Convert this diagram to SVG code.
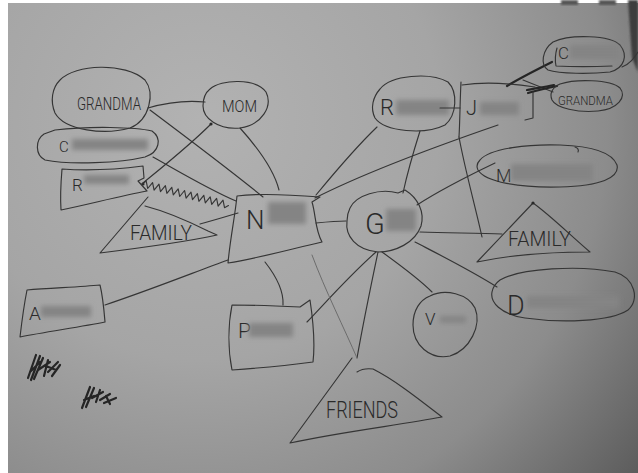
<svg xmlns="http://www.w3.org/2000/svg" width="638" height="473" viewBox="0 0 638 473">
  <defs>
    <radialGradient id="paper" gradientUnits="userSpaceOnUse" cx="200" cy="120" r="600">
      <stop offset="0" stop-color="#b2b2b2"/>
      <stop offset="0.4" stop-color="#a5a5a5"/>
      <stop offset="0.68" stop-color="#8c8c8c"/>
      <stop offset="0.95" stop-color="#5a5a5a"/>
    </radialGradient>
    <filter id="smudge" x="-20%" y="-60%" width="140%" height="220%">
      <feGaussianBlur stdDeviation="2.6"/>
    </filter>
    <filter id="soft" x="-20%" y="-20%" width="140%" height="140%">
      <feGaussianBlur stdDeviation="1.2"/>
    </filter>
  </defs>
  <style>
    .ink { fill: none; stroke: #353535; stroke-width: 1.15; stroke-linecap: round; stroke-linejoin: round; }
    .faint { fill: none; stroke: #6c6c6c; stroke-width: 1; stroke-linecap: round; }
    .bold { fill: none; stroke: #252525; stroke-width: 2.2; stroke-linecap: round; }
    .hand { font-family: Roboto, "Liberation Sans", "DejaVu Sans", sans-serif; font-weight: 300; fill: #2a2a2a; }
    .redact { fill: #848484; filter: url(#smudge); }
  </style>

  <!-- paper -->
  <rect x="0" y="0" width="638" height="473" fill="url(#paper)"/>
  <rect x="0" y="0" width="8" height="473" fill="#ffffff"/>
  <rect x="0" y="0" width="638" height="3" fill="#ffffff"/>
  <path d="M628,0 L638,0 L638,72 L632,58 Z" fill="#3c3c3c" filter="url(#soft)"/>
  <rect x="561" y="0" width="17" height="5" fill="#555" filter="url(#soft)"/>
  <rect x="599" y="0" width="17" height="5" fill="#555" filter="url(#soft)"/>

  <!-- connectors -->
  <g id="connectors">
    <path class="ink" d="M148,108 C165,103 185,100 205,102"/>
    <path class="ink" d="M150,110 C190,140 230,170 263,197"/>
    <path class="ink" d="M240,128 C258,148 274,170 279,190"/>
    <path class="ink" d="M211,124 C190,145 165,165 143,183"/>
    <circle cx="211" cy="124" r="1.6" fill="#2a2a2a"/>
    <circle cx="143" cy="184" r="1.6" fill="#2a2a2a"/>
    <path class="ink" d="M153,157 C185,175 210,190 236,201"/>
    <path class="ink" d="M200,224 C215,220 228,216 238,213"/>
    <g transform="translate(142,184) rotate(14)">
      <path class="ink" d="M0,0 l3.3,-4 l3.3,7 l3.3,-7 l3.3,7 l3.3,-7 l3.3,7 l3.3,-7 l3.3,7 l3.3,-7 l3.3,7 l3.3,-7 l3.3,7 l3.3,-7 l3.3,7 l3.3,-7 l3.3,7 l3.3,-7 l3.3,7 l3.3,-7 l3.3,7 l3.3,-7 l3.3,7 l3.3,-7 l3.3,7 l3.3,-7 l3.3,7 l3.3,-3"/>
    </g>
    <path class="ink" d="M105,305 C150,290 195,272 228,260"/>
    <path class="ink" d="M265,262 C276,276 284,290 283,305"/>
    <path class="ink" d="M316,223 C326,222 336,221 346,221"/>
    <path class="ink" d="M316,195 C335,172 355,148 377,127"/>
    <path class="ink" d="M315,198 C370,170 440,145 498,125"/>
    <path class="ink" d="M403,193 C408,170 414,150 420,131"/>
    <path class="ink" d="M417,205 C440,190 470,175 495,163"/>
    <path class="ink" d="M420,232 C450,233 478,233 502,234"/>
    <path class="ink" d="M415,242 C440,255 470,270 497,287"/>
    <path class="ink" d="M382,252 C400,265 420,280 432,292"/>
    <path class="ink" d="M378,252 C370,290 362,330 357,358"/>
    <path class="ink" d="M376,252 C350,275 328,300 307,322"/>
    <path class="faint" d="M312,255 C325,290 345,330 357,358"/>
    <path class="ink" d="M459,137 C465,170 475,205 482,237"/>
    <path class="bold" d="M507,86 C520,78 538,69 552,62"/>
    <path class="ink" d="M523,80 C533,84 543,88 553,92"/>
    <path class="bold" d="M528,93 C538,90 547,88 557,86"/>
    <path class="bold" d="M527,90 C537,88 546,87 554,85"/>
  </g>

  <!-- GRANDMA (left) -->
  <g id="grandma-left">
    <path class="ink" d="M60,80 C75,64 125,62 145,80 C155,93 150,120 130,128 C105,135 65,131 55,113 C50,101 52,88 60,80 Z"/>
    <text class="hand" x="77" y="110" font-size="18" textLength="64" lengthAdjust="spacingAndGlyphs">GRANDMA</text>
  </g>

  <!-- MOM -->
  <g id="mom">
    <path class="ink" d="M210,89 C221,79 256,78 266,92 C273,106 262,125 240,128 C218,130 203,118 203,106 C203,98 205,93 210,89 Z"/>
    <text class="hand" x="222" y="112" font-size="16" textLength="35" lengthAdjust="spacingAndGlyphs">MOM</text>
  </g>

  <!-- C (pill) -->
  <g id="c-left">
    <path class="ink" d="M55,130 C90,126 135,127 152,131 C162,138 160,152 145,157 C120,163 70,165 45,160 C35,155 35,140 44,134 Z"/>
    <text class="hand" x="59" y="152" font-size="15">C</text>
    <rect class="redact" x="72" y="139" width="76" height="11"/>
  </g>

  <!-- R (flag box) -->
  <g id="r-left">
    <path class="ink" d="M62,169 C90,171 120,169 143,166 L144,178 L138,181 L147,191 C120,196 90,204 61,210 C60,195 61,181 62,169 Z"/>
    <text class="hand" x="72" y="191" font-size="17">R</text>
    <rect class="redact" x="84" y="175" width="45" height="9"/>
  </g>

  <!-- FAMILY (left triangle) -->
  <g id="family-left">
    <path class="ink" d="M148,197 L100,253 C140,248 190,241 217,235 L208,231 C190,222 168,212 145,206"/>
    <text class="hand" x="130" y="240" font-size="21" textLength="62" lengthAdjust="spacingAndGlyphs">FAMILY</text>
  </g>

  <!-- N -->
  <g id="n">
    <path class="ink" d="M237,196 C260,193 295,195 320,197 L312,202 C316,215 315,230 322,242 C295,248 260,258 228,263 C230,240 235,216 237,196 Z"/>
    <text class="hand" x="246" y="229" font-size="26">N</text>
    <rect class="redact" x="268" y="202" width="38" height="22"/>
  </g>

  <!-- G -->
  <g id="g">
    <path class="ink" d="M350,208 C356,195 380,188 398,193 L405,190 C418,198 425,212 421,226 C415,243 395,252 378,252 C356,250 345,236 347,221 C347,215 348,212 350,208 Z"/>
    <text class="hand" x="365" y="234" font-size="29">G</text>
    <rect class="redact" x="386" y="209" width="30" height="22"/>
  </g>

  <!-- R | J -->
  <g id="r-j">
    <path class="ink" d="M380,89 C391,75 430,72 448,82 C458,92 457,115 445,125 C425,135 385,132 375,118 C370,108 373,97 380,89 Z"/>
    <path class="ink" d="M461,82 C460,100 460,120 459,137"/>
    <path class="ink" d="M462,85 C482,82 508,83 535,87"/>
    <path class="ink" d="M533,92 L533,118 L525,120"/>
    <text class="hand" x="380" y="115" font-size="22">R</text>
    <rect class="redact" x="396" y="100" width="53" height="15"/>
    <path class="ink" d="M440,108 L460,108"/>
    <text class="hand" x="466" y="115" font-size="20">J</text>
    <rect class="redact" x="480" y="102" width="39" height="13"/>
  </g>

  <!-- C (top right) -->
  <g id="c-right">
    <path class="ink" d="M553,42 C570,34 610,35 620,45 C628,55 625,68 610,72 C590,74 560,74 548,70 C540,65 542,50 553,42 Z"/>
    <path class="ink" d="M557,48 C555,55 555,61 556,66 C575,67 590,67 612,66"/>
    <path class="ink" d="M622,67 C630,64 634,58 638,52"/>
    <text class="hand" x="558" y="59" font-size="17">C</text>
    <rect class="redact" x="570" y="45" width="49" height="14"/>
  </g>

  <!-- GRANDMA (top right) -->
  <g id="grandma-right">
    <path class="ink" d="M560,84 C575,79 610,79 620,88 C627,97 618,109 598,111 C578,113 556,108 552,100 C549,93 553,87 560,84 Z"/>
    <text class="hand" x="558" y="105" font-size="13" textLength="55" lengthAdjust="spacingAndGlyphs">GRANDMA</text>
  </g>

  <!-- M -->
  <g id="m">
    <path class="ink" d="M480,160 C490,148 530,144 560,145 C590,146 612,152 617,165 C620,178 600,186 560,187 C520,188 485,182 478,170 C476,166 477,163 480,160 Z"/>
    <path class="ink" d="M575,147 C578,148 579,150 578,152"/>
    <text class="hand" x="496" y="182" font-size="18">M</text>
    <rect class="redact" x="511" y="164" width="82" height="17"/>
  </g>

  <!-- FAMILY (right triangle) -->
  <g id="family-right">
    <path class="ink" d="M533,203 L477,262 C510,255 555,252 590,252 C570,235 550,215 533,203 Z"/>
    <circle cx="533" cy="203" r="1.6" fill="#2a2a2a"/>
    <text class="hand" x="508" y="246" font-size="20" textLength="63" lengthAdjust="spacingAndGlyphs">FAMILY</text>
  </g>

  <!-- D -->
  <g id="d">
    <path class="ink" d="M500,280 C520,268 580,265 615,272 C635,278 640,300 628,310 C610,322 560,323 525,318 C500,314 490,302 492,292 C493,286 496,283 500,280 Z"/>
    <text class="hand" x="507" y="315" font-size="27">D</text>
    <rect class="redact" x="527" y="296" width="92" height="12"/>
  </g>

  <!-- V -->
  <g id="v">
    <path class="ink" d="M430,296 C445,288 468,294 475,308 C482,325 470,350 450,356 C430,360 413,345 413,325 C413,310 420,300 430,296 Z"/>
    <text class="hand" x="425" y="325" font-size="17">V</text>
    <rect class="redact" x="440" y="316" width="26" height="7"/>
  </g>

  <!-- A -->
  <g id="a">
    <path class="ink" d="M27,290 C50,288 80,287 100,285 C103,297 104,310 105,322 C80,327 45,332 20,337 C22,320 24,305 27,290 Z"/>
    <text class="hand" x="29" y="320" font-size="19">A</text>
    <rect class="redact" x="41" y="306" width="50" height="11"/>
  </g>

  <!-- P -->
  <g id="p">
    <path class="ink" d="M232,305 C255,305 280,306 300,307 L310,300 C313,320 315,345 313,362 C290,365 260,368 232,370 C228,350 228,325 232,305 Z"/>
    <text class="hand" x="238" y="338" font-size="21">P</text>
    <rect class="redact" x="249" y="323" width="44" height="14"/>
  </g>

  <!-- FRIENDS -->
  <g id="friends">
    <path class="ink" d="M352,358 L290,443 C340,432 400,425 442,417 C420,400 395,380 373,369 C365,368 360,370 357,372"/>
    <text class="hand" x="326" y="418" font-size="24" textLength="72" lengthAdjust="spacingAndGlyphs">FRIENDS</text>
  </g>

  <!-- scribbled initials, bottom left -->
  <g id="initials" class="bold" stroke-width="1.6">
    <path d="M28,378 L36,355 M31,380 L40,356 M34,379 L43,358 M30,372 L40,362 M38,370 L50,362 M44,376 L48,360 M48,372 L58,362 M52,376 L60,365 M46,366 L56,370"/>
    <path d="M82,408 L90,387 M86,407 L94,388 M84,400 L94,396 M92,398 L103,392 M96,402 L100,390 M100,400 L110,394 M104,403 L116,398 M106,396 L110,404"/>
  </g>
</svg>
